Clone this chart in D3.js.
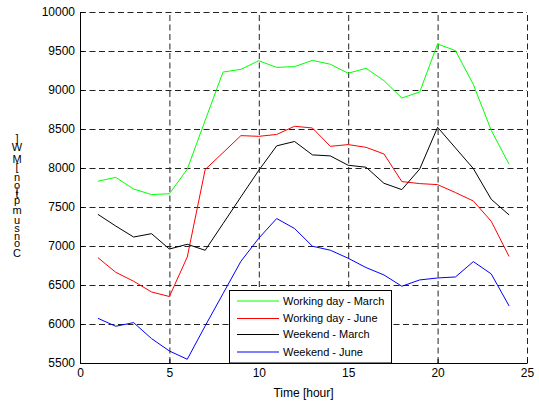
<!DOCTYPE html>
<html>
<head>
<meta charset="utf-8">
<script src="https://cdn.jsdelivr.net/npm/d3@7"></script>
<style>
  body { margin: 0; background: #fff; }
  text { font-family: "Liberation Sans", Arial, sans-serif; }
</style>
</head>
<body>
<svg width="539" height="403"></svg>
<script>
// hours and consumption values [MW]
const hours = d3.range(1, 25);
const workMarch = [7830, 7880, 7730, 7660, 7670, 7985, 8610, 9230, 9265, 9375, 9290, 9300,
  9380, 9330, 9215, 9278, 9120, 8897, 8975, 9590, 9505, 9070, 8483, 8047];
const workJune = [6851, 6663, 6548, 6411, 6352, 6859, 7980, 8197, 8415, 8406, 8430, 8535,
  8513, 8278, 8300, 8265, 8180, 7826, 7800, 7787, 7685, 7577, 7317, 6865];
const weekMarch = [7406, 7256, 7115, 7158, 6961, 7022, 6945, 7287, 7630, 7970, 8284, 8340,
  8168, 8155, 8035, 8010, 7804, 7723, 7987, 8522, 8257, 7992, 7599, 7398];
const weekJune = [6073, 5971, 6018, 5813, 5654, 5548, 5975, 6390, 6804, 7100, 7352, 7224,
  6997, 6946, 6843, 6723, 6629, 6484, 6565, 6590, 6603, 6800, 6642, 6231];
const seriesNames = ["Working day - March", "Working day - June", "Weekend - March", "Weekend - June"];
const seriesColors = ["#00ff00", "#ff0000", "#000000", "#0000ff"];
const xTicks = [0, 5, 10, 15, 20, 25];
const yTicks = d3.range(5500, 10001, 500);

const svg = d3.select("svg");
const mLeft = 80, mRight = 527, mTop = 12, mBottom = 363;

const x = d3.scaleLinear().domain([0, 25]).range([mLeft, mRight]);
const y = d3.scaleLinear().domain([5500, 10000]).range([mBottom, mTop]);

// dashed grid
svg.append("g")
  .attr("transform", "translate(0," + mBottom + ")")
  .call(d3.axisBottom(x).tickValues(xTicks.slice(1)).tickSize(-(mBottom - mTop)).tickFormat(""))
  .call(g => g.select(".domain").remove())
  .selectAll("line").attr("stroke", "#222").attr("stroke-dasharray", "6,3.5");
svg.append("g")
  .attr("transform", "translate(" + mLeft + ",0)")
  .call(d3.axisLeft(y).tickValues(yTicks.slice(1)).tickSize(-(mRight - mLeft)).tickFormat(""))
  .call(g => g.select(".domain").remove())
  .selectAll("line").attr("stroke", "#222").attr("stroke-dasharray", "6,3.5");

// lines
const data = [workMarch, workJune, weekMarch, weekJune];
const line = d3.line().x((d, i) => x(hours[i])).y(d => y(d));
svg.append("g").selectAll("path")
  .data(data)
  .join("path")
  .attr("fill", "none")
  .attr("stroke", (d, i) => seriesColors[i])
  .attr("stroke-width", 1)
  .attr("d", line);

// axes
const xAxis = svg.append("g")
  .attr("transform", "translate(0," + mBottom + ")")
  .call(d3.axisBottom(x).tickValues(xTicks).tickFormat(d3.format("d"))
    .tickSizeInner(-4).tickSizeOuter(0).tickPadding(5));
const yAxis = svg.append("g")
  .attr("transform", "translate(" + mLeft + ",0)")
  .call(d3.axisLeft(y).tickValues(yTicks).tickFormat(d3.format("d"))
    .tickSizeInner(-4).tickSizeOuter(0).tickPadding(5));
[xAxis, yAxis].forEach(a => {
  a.selectAll("text").attr("font-size", 12).attr("fill", "#000")
    .attr("font-family", "Liberation Sans, Arial, sans-serif");
  a.select(".domain").attr("stroke", "#000");
  a.selectAll(".tick line").attr("stroke", "#000");
});

// x label
svg.append("text")
  .attr("x", (mLeft + mRight) / 2)
  .attr("y", 397)
  .attr("text-anchor", "middle")
  .attr("font-size", 12)
  .text("Time [hour]");

// y label: upright glyphs stacked bottom-to-top
const yLabel = "Consumption [MW]";
const meas = svg.append("text").attr("font-size", 11);
const widths = yLabel.split("").map(c => {
  meas.text(c === " " ? "\u00a0" : c);
  return meas.node().getComputedTextLength();
});
meas.remove();
const total = d3.sum(widths);
const k = 122 / total;
let pos = 258;
yLabel.split("").forEach((c, i) => {
  const w = widths[i] * k;
  svg.append("text")
    .attr("x", 17)
    .attr("y", pos - w / 2)
    .attr("dy", "0.35em")
    .attr("text-anchor", "middle")
    .attr("font-size", 11)
    .text(c);
  pos -= w;
});

// legend
const lg = svg.append("g");
lg.append("rect")
  .attr("x", 229.5).attr("y", 290.5)
  .attr("width", 162).attr("height", mBottom - 290.5)
  .attr("fill", "#fff").attr("stroke", "#000");
const rowY = [301, 318.5, 334.5, 352];
seriesNames.forEach((name, i) => {
  lg.append("line")
    .attr("x1", 237).attr("x2", 279)
    .attr("y1", rowY[i]).attr("y2", rowY[i])
    .attr("stroke", seriesColors[i]);
  lg.append("text")
    .attr("x", 283).attr("y", rowY[i])
    .attr("dy", "0.35em")
    .attr("font-size", 11)
    .text(name);
});
</script>
</body>
</html>
